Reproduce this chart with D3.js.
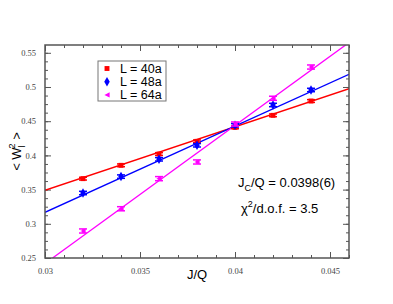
<!DOCTYPE html>
<html>
<head>
<meta charset="utf-8">
<script src="https://cdn.jsdelivr.net/npm/d3@7"></script>
<style>
  body { margin: 0; background: #fff; }
  svg { display: block; }
</style>
</head>
<body>
<script>
(function (d3) {
	'use strict';

	var width = 393,
	    height = 304;

	// data
	var jq = [0.032, 0.034, 0.036, 0.038, 0.040, 0.042, 0.044];
	var w40 = [0.366, 0.3855, 0.402, 0.4206, 0.441, 0.4586, 0.4795];
	var w48 = [0.345, 0.369, 0.3943, 0.4148, 0.444, 0.4737, 0.4956];
	var w64 = [0.2895, 0.322, 0.366, 0.3904, 0.4459, 0.4835, 0.5292];
	var err40 = [0.002, 0.002, 0.002, 0.002, 0.002, 0.002, 0.002];
	var err48 = [0.0025, 0.0025, 0.0025, 0.0025, 0.0025, 0.0025, 0.0025];
	var err64 = [0.003, 0.003, 0.003, 0.003, 0.003, 0.003, 0.003];
	var seriesNames = ['L = 40a', 'L = 48a', 'L = 64a'];
	var seriesColors = ['#ff0000', '#0000ff', '#ff00ff'];
	// linear fits: [J/Q, W] at both ends
	var fit40 = [[0.03, 0.349], [0.046, 0.4975]];
	var fit48 = [[0.03, 0.3168], [0.046, 0.5186]];
	var fit64 = [[0.0304, 0.25], [0.0462, 0.569]];
	var xTicks = [0.03, 0.035, 0.04, 0.045];
	var yTicks = [0.25, 0.3, 0.35, 0.4, 0.45, 0.5, 0.55];

	var margin = {left: 45, top: 45, right: 44, bottom: 46},
	    pw = width - margin.left - margin.right,
	    ph = height - margin.top - margin.bottom;

	var x = d3.scaleLinear().domain([0.03, 0.046]).range([0, pw]);
	var y = d3.scaleLinear().domain([0.25, 0.5614]).range([ph, 0]);

	var svg = d3.select('body').append('svg')
		.attr('width', width)
		.attr('height', height);

	svg.append('defs').append('clipPath').attr('id', 'clip')
		.append('rect').attr('width', pw).attr('height', ph);

	var g = svg.append('g').attr('transform', 'translate(' + margin.left + ',' + margin.top + ')');

	var axisColor = '#555';
	var xMinor = d3.range(0.03, 0.04601, 0.001);
	var yMinor = d3.range(0.25, 0.5614, 0.0125);

	function styleAxis(sel, showLabels) {
		sel.select('.domain').remove();
		sel.selectAll('line').attr('stroke', axisColor).attr('stroke-width', 1);
		sel.selectAll('text')
			.attr('font-family', '"Liberation Serif", "DejaVu Serif", serif')
			.attr('font-size', 8.5)
			.attr('fill', '#444')
			.style('display', showLabels ? null : 'none');
	}

	// minor + major ticks, pointing inward on all four sides
	g.append('g').attr('transform', 'translate(0,' + ph + ')')
		.call(d3.axisBottom(x).tickValues(xMinor).tickSize(-3).tickFormat(''))
		.call(styleAxis, false);
	g.append('g').attr('transform', 'translate(0,' + ph + ')')
		.call(d3.axisBottom(x).tickValues(xTicks).tickSize(-6).tickPadding(10).tickFormat(d3.format('')))
		.call(styleAxis, true);
	g.append('g')
		.call(d3.axisTop(x).tickValues(xMinor).tickSize(-3).tickFormat(''))
		.call(styleAxis, false);
	g.append('g')
		.call(d3.axisTop(x).tickValues(xTicks).tickSize(-6).tickFormat(''))
		.call(styleAxis, false);

	g.append('g')
		.call(d3.axisLeft(y).tickValues(yMinor).tickSize(-3).tickFormat(''))
		.call(styleAxis, false);
	g.append('g')
		.call(d3.axisLeft(y).tickValues(yTicks).tickSize(-6).tickPadding(9).tickFormat(d3.format('')))
		.call(styleAxis, true);
	g.append('g').attr('transform', 'translate(' + pw + ',0)')
		.call(d3.axisRight(y).tickValues(yMinor).tickSize(-3).tickFormat(''))
		.call(styleAxis, false);
	g.append('g').attr('transform', 'translate(' + pw + ',0)')
		.call(d3.axisRight(y).tickValues(yTicks).tickSize(-6).tickFormat(''))
		.call(styleAxis, false);

	// fit lines
	var line = d3.line()
		.x(function (d) { return x(d[0]); })
		.y(function (d) { return y(d[1]); });

	var plot = g.append('g').attr('clip-path', 'url(#clip)');
	[fit40, fit48, fit64].forEach(function (f, i) {
		plot.append('path')
			.attr('d', line(f))
			.attr('fill', 'none')
			.attr('stroke', seriesColors[i])
			.attr('stroke-width', 1.3);
	});

	// markers
	var symbols = [
		d3.symbol().type(d3.symbolSquare).size(24),
		d3.symbol().type(d3.symbolDiamond).size(26),
		null
	];
	function triLeft(s) {
		return 'M' + (-s) + ',0L' + s + ',' + (-s) + 'L' + s + ',' + s + 'Z';
	}

	[[w40, err40], [w48, err48], [w64, err64]].forEach(function (ser, i) {
		var pts = jq.map(function (j, k) { return {x: j, y: ser[0][k], e: ser[1][k]}; });
		var col = seriesColors[i];
		var sg = g.append('g');
		var eb = sg.selectAll('g.err').data(pts).enter().append('g')
			.attr('transform', function (d) { return 'translate(' + x(d.x) + ',0)'; });
		eb.append('line')
			.attr('y1', function (d) { return y(d.y - d.e); })
			.attr('y2', function (d) { return y(d.y + d.e); })
			.attr('stroke', col).attr('stroke-width', 1.5);
		[-1, 1].forEach(function (sgn) {
			eb.append('line')
				.attr('x1', -4).attr('x2', 4)
				.attr('y1', function (d) { return y(d.y + sgn * d.e); })
				.attr('y2', function (d) { return y(d.y + sgn * d.e); })
				.attr('stroke', col).attr('stroke-width', 1.5);
		});
		sg.selectAll('path.pt').data(pts).enter().append('path')
			.attr('transform', function (d) { return 'translate(' + x(d.x) + ',' + y(d.y) + ')'; })
			.attr('d', i === 2 ? triLeft(2.6) : symbols[i]())
			.attr('fill', col);
	});

	// frame
	g.append('rect')
		.attr('width', pw).attr('height', ph)
		.attr('fill', 'none')
		.attr('stroke', axisColor)
		.attr('stroke-width', 1.5);

	// legend
	var sans = '"Liberation Sans", Arial, sans-serif';
	var leg = svg.append('g').attr('transform', 'translate(98,61)');
	leg.append('rect')
		.attr('width', 68).attr('height', 40)
		.attr('fill', '#fff').attr('stroke', '#777').attr('stroke-width', 1);
	seriesNames.forEach(function (name, i) {
		var row = leg.append('g').attr('transform', 'translate(0,' + (7.5 + i * 13.2) + ')');
		row.append('path')
			.attr('transform', 'translate(9,0)')
			.attr('d', i === 2 ? triLeft(2.6) : symbols[i]())
			.attr('fill', seriesColors[i]);
		row.append('text')
			.attr('x', 22).attr('y', 4.3)
			.attr('font-family', sans).attr('font-size', 12.5)
			.text(name);
	});

	// axis titles
	svg.append('text')
		.attr('x', margin.left + pw / 2).attr('y', 279)
		.attr('text-anchor', 'middle')
		.attr('font-family', sans).attr('font-size', 13)
		.text('J/Q');

	var yl = svg.append('text')
		.attr('transform', 'translate(21,' + (margin.top + ph / 2) + ') rotate(-90)')
		.attr('text-anchor', 'middle')
		.attr('font-family', sans).attr('font-size', 13);
	yl.append('tspan').text('< W');
	yl.append('tspan').attr('font-size', 9).attr('dy', 4).text('l');
	yl.append('tspan').attr('font-size', 9).attr('dy', -10).attr('dx', -3).text('2');
	yl.append('tspan').attr('dy', 6).text(' >');

	// annotations
	var a1 = svg.append('text')
		.attr('x', 238).attr('y', 187)
		.attr('font-family', sans).attr('font-size', 13);
	a1.append('tspan').text('J');
	a1.append('tspan').attr('font-size', 9).attr('dy', 4).text('C');
	a1.append('tspan').attr('dy', -4).text('/Q = 0.0398(6)');

	var a2 = svg.append('text')
		.attr('x', 241).attr('y', 213)
		.attr('font-family', sans).attr('font-size', 13);
	a2.append('tspan').text('\u03c7');
	a2.append('tspan').attr('font-size', 9).attr('dy', -6).text('2');
	a2.append('tspan').attr('dy', 6).text('/d.o.f. = 3.5');
})(d3);
</script>
</body>
</html>
